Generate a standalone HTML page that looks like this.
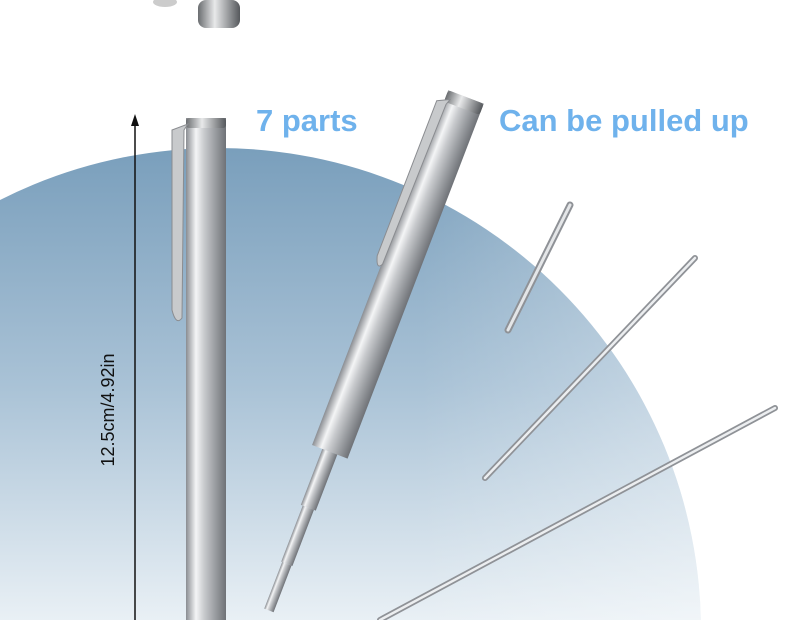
<!DOCTYPE html>
<html><head><meta charset="utf-8"><style>
html,body{margin:0;padding:0;background:#fff;width:790px;height:620px;overflow:hidden;}
svg{display:block}
</style></head><body>
<svg width="790" height="620" viewBox="0 0 790 620" xmlns="http://www.w3.org/2000/svg" style="overflow:hidden">
<defs>
<clipPath id="frame"><rect x="0" y="0" width="790" height="620"/></clipPath>
<linearGradient id="bg" x1="0" y1="150" x2="0" y2="620" gradientUnits="userSpaceOnUse">
<stop offset="0" stop-color="#7a9fbc"/><stop offset="0.5" stop-color="#a9c2d6"/><stop offset="1" stop-color="#e9f0f5"/>
</linearGradient>
<linearGradient id="bg2" x1="0" y1="0" x2="700" y2="0" gradientUnits="userSpaceOnUse">
<stop offset="0.6" stop-color="#fff" stop-opacity="0"/><stop offset="1" stop-color="#fff" stop-opacity="0.35"/>
</linearGradient>
<linearGradient id="steel" x1="0" y1="0" x2="1" y2="0">
<stop offset="0" stop-color="#8a8d92"/><stop offset="0.25" stop-color="#f4f5f6"/><stop offset="0.45" stop-color="#c9cbce"/><stop offset="0.7" stop-color="#9fa2a6"/><stop offset="1" stop-color="#6f7277"/>
</linearGradient>
<linearGradient id="cap" x1="0" y1="0" x2="1" y2="0">
<stop offset="0" stop-color="#6a6d70"/><stop offset="0.4" stop-color="#e8e9ea"/><stop offset="1" stop-color="#55585c"/>
</linearGradient>
</defs>
<g clip-path="url(#frame)">
<circle cx="218" cy="631" r="483" fill="url(#bg)"/>
<circle cx="218" cy="631" r="483" fill="url(#bg2)"/>
<rect x="198" y="0" width="42" height="28" rx="8" fill="url(#cap)"/>
<ellipse cx="165" cy="2" rx="12" ry="5" fill="#ccc"/>
<line x1="135" y1="122" x2="135" y2="620" stroke="#111" stroke-width="1.5"/>
<polygon points="135,114 131,126 139,126" fill="#111"/>
<text transform="translate(114,410) rotate(-90)" text-anchor="middle" font-family="Liberation Sans, sans-serif" font-size="18" fill="#111">12.5cm/4.92in</text>
<text x="256" y="131" font-family="Liberation Sans, sans-serif" font-weight="bold" font-size="31" fill="#6fb2ec">7 parts</text>
<text x="499" y="131" font-family="Liberation Sans, sans-serif" font-weight="bold" font-size="31" fill="#6fb2ec">Can be pulled up</text>
<rect x="186" y="118" width="40" height="502" fill="url(#steel)"/>
<rect x="186" y="118" width="40" height="10" rx="3" fill="url(#cap)"/>
<path d="M188 124 L172 130 L172 310 Q176 326 182 318 L184 130 Z" fill="#c8cacc" stroke="#8a8c90" stroke-width="1"/>
<g transform="translate(466,97) rotate(21)">
<rect x="-19" y="0" width="38" height="380" fill="url(#steel)"/>
<rect x="-19" y="0" width="38" height="12" rx="3" fill="url(#cap)"/>
<path d="M-14 8 L-26 14 L-26 180 Q-22 194 -18 186 L-16 14 Z" fill="#c8cacc" stroke="#8a8c90"/>
<rect x="-8" y="380" width="16" height="60" fill="url(#steel)"/>
<rect x="-6" y="440" width="12" height="60" fill="url(#steel)"/>
<rect x="-5" y="500" width="10" height="50" fill="url(#steel)"/>
</g>
<g stroke-linecap="round">
<line x1="570" y1="205" x2="508" y2="330" stroke="#8f9297" stroke-width="7"/>
<line x1="570" y1="205" x2="508" y2="330" stroke="#e4e6e8" stroke-width="3"/>
<line x1="695" y1="258" x2="485" y2="478" stroke="#8f9297" stroke-width="6"/>
<line x1="695" y1="258" x2="485" y2="478" stroke="#eceef0" stroke-width="2.5"/>
<line x1="775" y1="408" x2="380" y2="620" stroke="#8f9297" stroke-width="6"/>
<line x1="775" y1="408" x2="380" y2="620" stroke="#eceef0" stroke-width="2.5"/>
</g>
</g>
</svg>
</body></html>
